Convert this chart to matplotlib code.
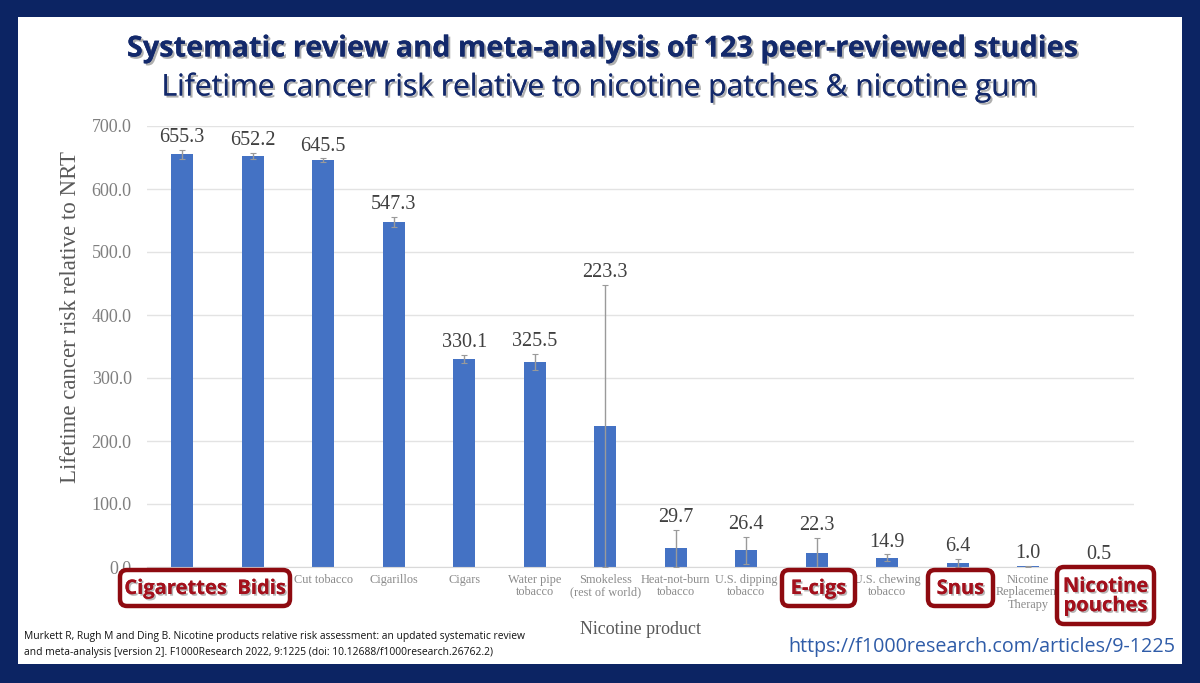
import matplotlib
matplotlib.use("Agg")
import matplotlib.pyplot as plt
import matplotlib.patheffects as pe
from matplotlib.patches import FancyBboxPatch, Rectangle

# ---------------- data ----------------
categories = ["Cigarettes", "Bidis", "Cut tobacco", "Cigarillos", "Cigars",
              "Water pipe\ntobacco", "Smokeless\n(rest of world)",
              "Heat-not-burn\ntobacco", "U.S. dipping\ntobacco", "E-cigs",
              "U.S. chewing\ntobacco", "Snus", "Nicotine\nReplacement\nTherapy",
              "Nicotine pouches"]
values = [655.3, 652.2, 645.5, 547.3, 330.1, 325.5, 223.3, 29.7, 26.4, 22.3,
          14.9, 6.4, 1.0, 0.5]
errors = [7, 5, 3, 8, 7, 13, 224, 29, 22, 24, 5, 6, 1, 0]
yticks = [0, 100, 200, 300, 400, 500, 600, 700]
# categories whose tick label is replaced by a highlighted callout box
highlighted = ["Cigarettes", "Bidis", "E-cigs", "Snus", "Nicotine pouches"]

title1 = "Systematic review and meta-analysis of 123 peer-reviewed studies"
title2 = "Lifetime cancer risk relative to nicotine patches & nicotine gum"
ylabel = "Lifetime cancer risk relative to NRT"
xlabel = "Nicotine product"
citation = ["Murkett R, Rugh M and Ding B. Nicotine products relative risk assessment: an updated systematic review",
            "and meta-analysis [version 2]. F1000Research 2022, 9:1225 (doi: 10.12688/f1000research.26762.2)"]
url = "https://f1000research.com/articles/9-1225"
callouts = ["Cigarettes  Bidis", "E-cigs", "Snus", "Nicotine\npouches"]

# ---------------- figure ----------------
W, H = 1200, 683
fig = plt.figure(figsize=(W / 100, H / 100), dpi=100)
fig.patch.set_facecolor("#0c2463")

def fx(x):
    return x / W

def fy(y):
    return 1 - y / H

# white panel
fig.patches.append(Rectangle((fx(18), fy(664)), fx(1182) - fx(18), fy(17) - fy(664),
                             transform=fig.transFigure, facecolor="white",
                             edgecolor="none", zorder=-5))

SERIF = ["Liberation Serif", "DejaVu Serif"]
SANS = ["Open Sans", "DejaVu Sans"]

ax = fig.add_axes([fx(147), fy(567), fx(1134) - fx(147), fy(126) - fy(567)])
ax.set_facecolor("none")
x = list(range(len(categories)))
ax.bar(x, values, width=0.31, color="#4472C4", zorder=2)
ax.errorbar(x, values, yerr=errors, fmt="none", ecolor="#9a9a9a",
            elinewidth=1.0, capsize=2.5, capthick=0.8, zorder=3)
for xi, v, e in zip(x, values, errors):
    ax.annotate(f"{v:.1f}", (xi, v + e), xytext=(0, 2), textcoords="offset points",
                ha="center", va="bottom", fontsize=14.5, color="#404040",
                family=SERIF, zorder=4)

ax.set_xlim(-0.5, len(categories) - 0.5)
ax.set_ylim(0, 700)
ax.set_yticks(yticks)
ax.set_yticklabels([f"{t:.1f}" for t in yticks], family=SERIF, fontsize=13,
                   color="#7f7f7f")
ax.set_xticks(x)
ax.set_xticklabels(["" if c in highlighted else c for c in categories],
                   family=SERIF, fontsize=8.8, color="#8a8a8a", linespacing=1.05)
ax.tick_params(axis="both", length=0)
ax.tick_params(axis="y", pad=11)
ax.tick_params(axis="x", pad=5)
ax.grid(axis="y", color="#e3e3e3", linewidth=1.0, zorder=0)
ax.set_axisbelow(True)
for s in ["top", "right", "left"]:
    ax.spines[s].set_visible(False)
ax.spines["bottom"].set_color("#d9d9d9")

fig.text(fx(71), fy(317), ylabel, rotation=90, ha="center", va="center",
         family=SERIF, fontsize=16.5, color="#595959")
fig.text(fx(641), fy(630), xlabel, ha="center", va="center",
         family=SERIF, fontsize=13, color="#595959")

# titles
shadow = [pe.withSimplePatchShadow(offset=(1.5, -1.5), shadow_rgbFace="#7a7a7a", alpha=0.6),
          pe.Normal()]
fig.text(fx(601), fy(49), title1, ha="center", va="center", fontsize=20.8,
         fontweight="bold", family=SANS, color="#13296b", path_effects=shadow)
fig.text(fx(600), fy(88), title2, ha="center", va="center", fontsize=21.6,
         family=SANS, color="#13296b", path_effects=shadow)

# citation and url
fig.text(fx(24), fy(636), citation[0], ha="left", va="center", fontsize=7.4,
         family=SANS, color="#111111")
fig.text(fx(24), fy(652), citation[1], ha="left", va="center", fontsize=7.4,
         family=SANS, color="#111111")
fig.text(fx(1175), fy(647), url, ha="right", va="center", fontsize=14.2,
         family=SANS, color="#2f5ca8")

# callout boxes (left, right, top, bottom in pixels)
boxes = [(120, 290, 570, 606), (782, 855, 570, 606), (928, 993, 570, 606),
         (1057, 1154, 567, 624)]
tshadow = [pe.withSimplePatchShadow(offset=(1.2, -1.2), shadow_rgbFace="#888888", alpha=0.6),
           pe.Normal()]
for label, (l, r, t, b) in zip(callouts, boxes):
    pad = 6
    fig.patches.append(FancyBboxPatch((fx(l + pad), fy(b - pad)),
                                      fx(r - l - 2 * pad), fy(t + pad) - fy(b - pad),
                                      boxstyle=f"round,pad={pad / W},rounding_size={7 / W}",
                                      transform=fig.transFigure, facecolor="white",
                                      edgecolor="#8e0a10", linewidth=3.2, zorder=5,
                                      mutation_aspect=W / H))
    fig.text(fx((l + r) / 2), fy((t + b) / 2 + 1), label, ha="center", va="center",
             fontsize=14.5, fontweight="bold", family=SANS, color="#a3101c",
             linespacing=0.95, zorder=6, path_effects=tshadow)

fig.savefig("out.png", dpi=100, facecolor=fig.get_facecolor())
